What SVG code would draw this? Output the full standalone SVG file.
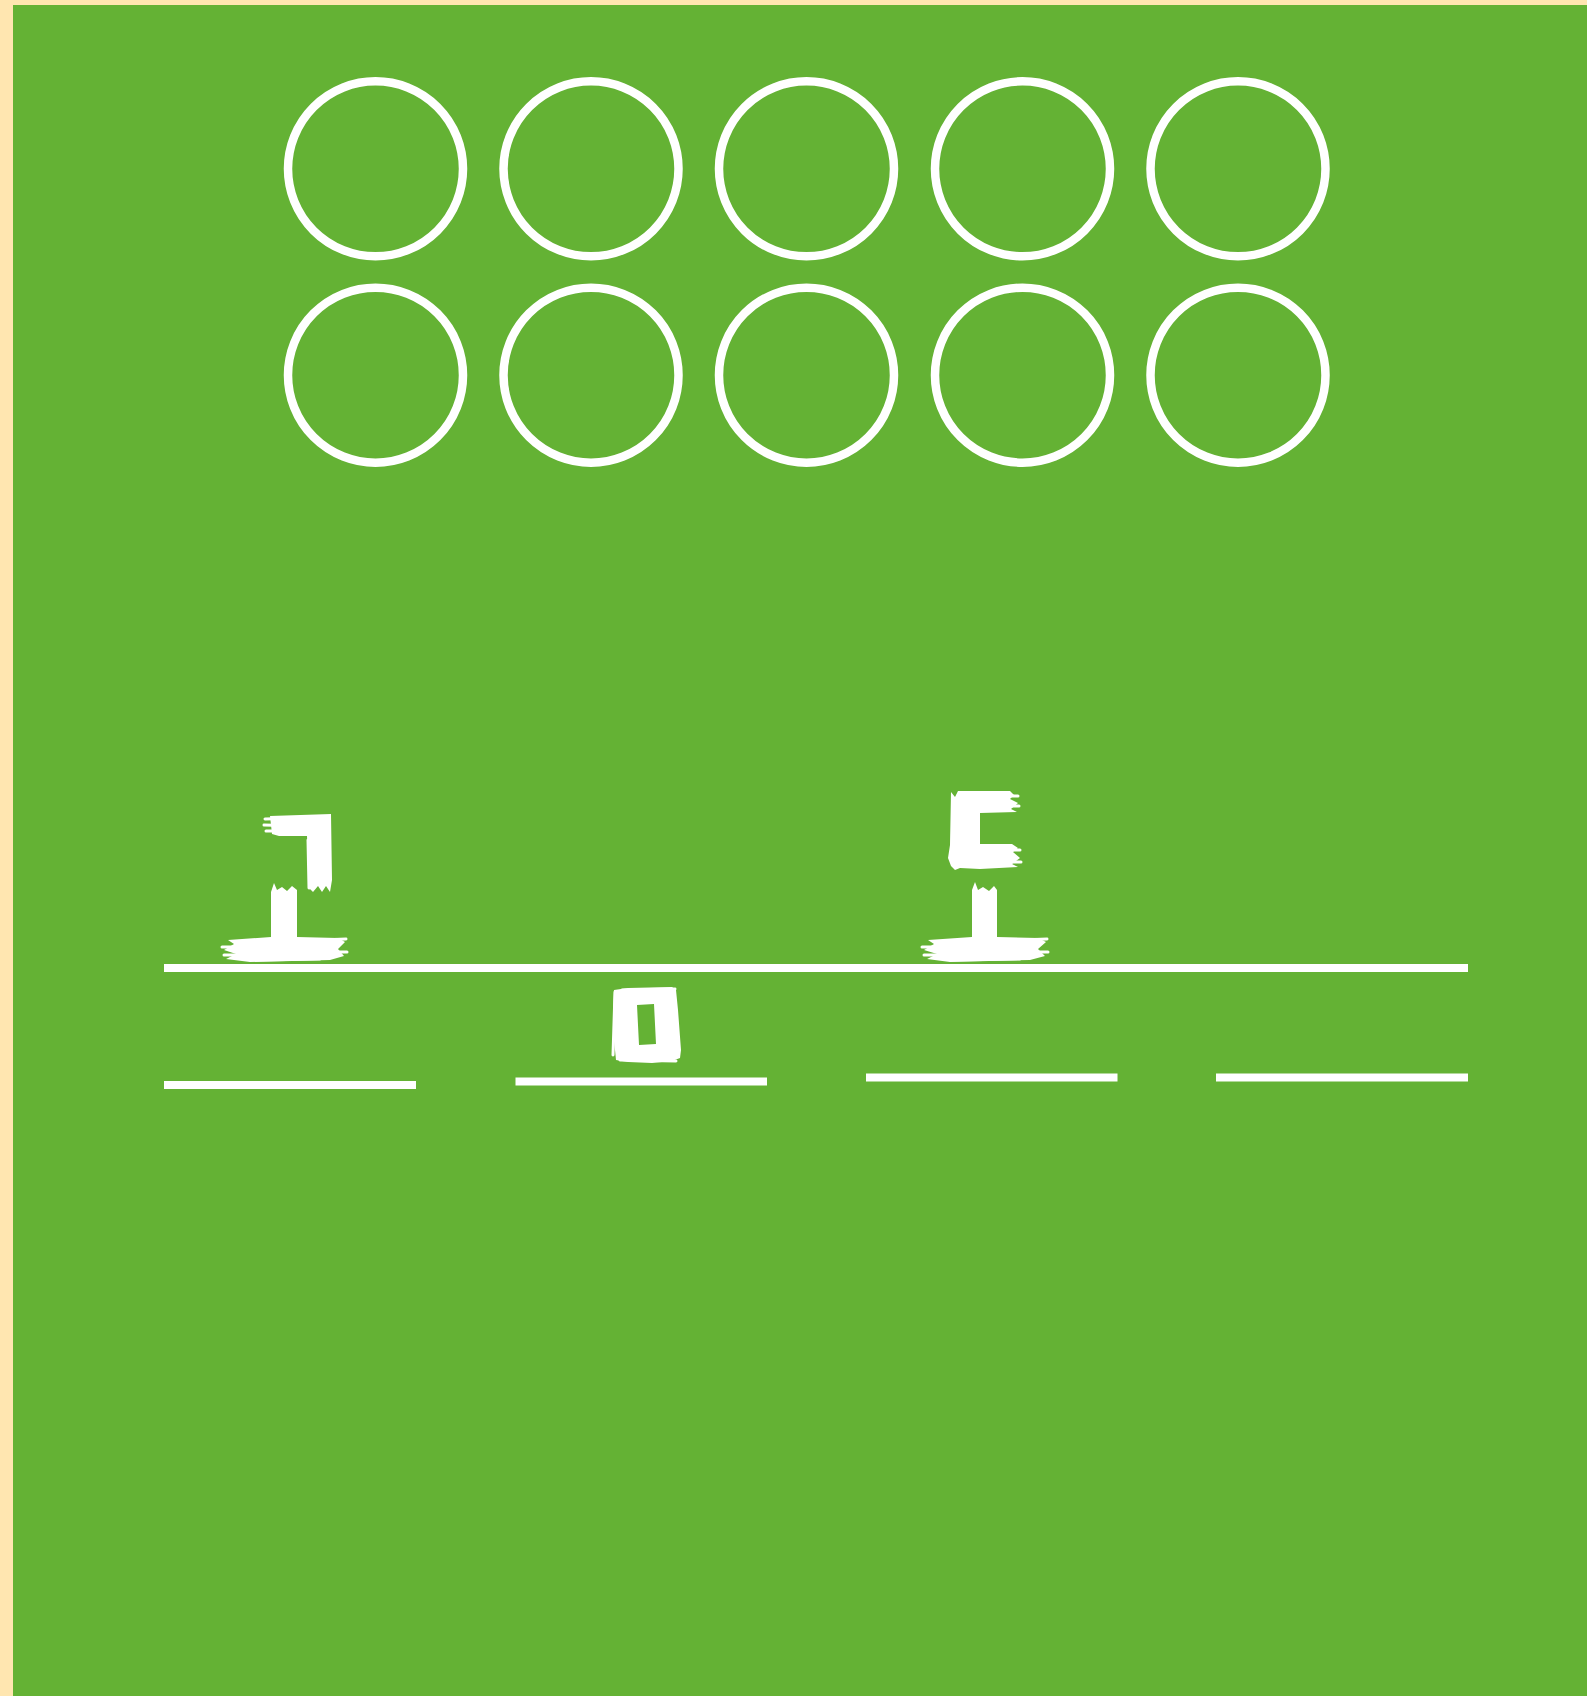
<svg xmlns="http://www.w3.org/2000/svg" width="1587" height="1696" viewBox="0 0 1587 1696">
  <style>
    .ring { fill: none; stroke: #ffffff; stroke-width: 8.5; }
    .bar { fill: #ffffff; }
    .blob { fill: #ffffff; }
    .scr { fill: none; stroke: #ffffff; stroke-width: 3; stroke-linecap: round; }
  </style>
  <rect x="0" y="0" width="1587" height="1696" fill="#FFE6B0"/>
  <rect x="13" y="5" width="1574" height="1691" fill="#64B234"/>

  <g id="frame">
    <g id="c1"><circle class="ring" cx="375.5" cy="168.8" r="87.5"/></g>
    <g id="c2"><circle class="ring" cx="591" cy="168.8" r="87.5"/></g>
    <g id="c3"><circle class="ring" cx="806.5" cy="168.8" r="87.5"/></g>
    <g id="c4"><circle class="ring" cx="1022.5" cy="168.8" r="87.5"/></g>
    <g id="c5"><circle class="ring" cx="1238" cy="168.8" r="87.5"/></g>
    <g id="c6"><circle class="ring" cx="375.5" cy="375.2" r="87.5"/></g>
    <g id="c7"><circle class="ring" cx="591" cy="375.2" r="87.5"/></g>
    <g id="c8"><circle class="ring" cx="806.5" cy="375.2" r="87.5"/></g>
    <g id="c9"><circle class="ring" cx="1022.5" cy="375.2" r="87.5"/></g>
    <g id="c10"><circle class="ring" cx="1238" cy="375.2" r="87.5"/></g>
  </g>

  <g id="lines">
    <rect class="bar" x="164" y="964" width="1304" height="8"/>
    <rect class="bar" x="164" y="1081" width="252" height="8"/>
    <rect class="bar" x="515.5" y="1077.5" width="251.5" height="8"/>
    <rect class="bar" x="866" y="1073.5" width="251.5" height="8"/>
    <rect class="bar" x="1216" y="1073.5" width="252" height="8"/>
  </g>

  <g id="digit-left-top">
    <path class="blob" d="M270,816 L331,814 L332,880 L330,892 L326,886 L322,892 L318,886 L313,892 L309,888 L307,836 L279,836 L272,834 Z"/>
    <path class="scr" d="M265,819 L300,818 M264,825 L302,826 M266,831 L296,831 M308,840 L309,888"/>
  </g>
  <g id="digit-left-bottom">
    <path class="blob" d="M271,892 L274,883 L277,890 L282,887 L287,891 L292,886 L297,890 L297,937 L338,938 L345,942 L338,949 L344,956 L330,960 L250,962 L226,959 L236,954 L224,950 L234,944 L228,940 L271,937 Z"/>
    <path class="scr" d="M222,947 L250,947 M224,955 L260,955 M322,940 L346,939 M320,952 L347,952 M250,960 L320,959"/>
  </g>
  <g id="digit-right-top">
    <path class="blob" d="M951,792 L955,797 L958,791 L1010,791 L1014,795 L1010,799 L1018,803 L1011,809 L1017,812 L980,813 L980,844 L1012,844 L1018,848 L1013,852 L1020,858 L1012,864 L1018,867 L980,869 L960,868 L955,870 L951,866 L948,858 L950,845 Z"/>
    <path class="scr" d="M990,796 L1018,796 M992,806 L1019,806 M992,850 L1020,850 M990,862 L1021,862 M953,800 L952,860"/>
  </g>
  <g id="digit-right-bottom">
    <path class="blob" d="M972,890 L975,882 L978,890 L983,887 L989,891 L994,886 L997,890 L997,937 L1038,938 L1046,942 L1038,949 L1045,956 L1030,960 L950,962 L927,959 L937,954 L924,950 L934,944 L928,940 L972,937 Z"/>
    <path class="scr" d="M922,947 L950,947 M924,955 L960,955 M1022,940 L1047,939 M1020,952 L1048,952 M950,960 L1020,959"/>
  </g>
  <g id="digit-zero">
    <path class="blob" fill-rule="evenodd" d="M614,990 L628,988 L672,987 L676,990 L678,1010 L681,1050 L680,1058 L672,1061 L652,1063 L628,1062 L616,1060 L614,1040 L613,1010 Z M637,1005 L654,1004 L656,1044 L639,1045 Z"/>
    <path class="scr" d="M615,992 L613,1055 M622,990 L675,989 M620,1060 L676,1061"/>
  </g>
</svg>
